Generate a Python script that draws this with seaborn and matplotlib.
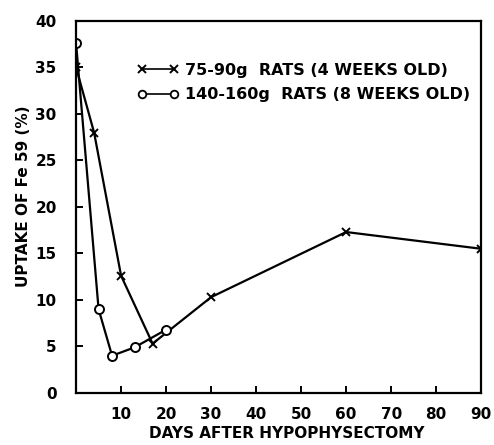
import numpy as np
import pandas as pd
import matplotlib
matplotlib.use("Agg")
import matplotlib.pyplot as plt
import seaborn as sns
from matplotlib.lines import Line2D

# values
days_young = [0, 4, 10, 17, 30, 60, 90]
uptake_young = [35.0, 28.0, 12.6, 5.3, 10.3, 17.3, 15.5]
days_old = [0, 5, 8, 13, 20]
uptake_old = [37.6, 9.0, 4.0, 4.9, 6.8]

label_young = "75-90g  RATS (4 WEEKS OLD)"
label_old = "140-160g  RATS (8 WEEKS OLD)"
x_ticks = [10, 20, 30, 40, 50, 60, 70, 80, 90]
y_ticks = [0, 5, 10, 15, 20, 25, 30, 35, 40]

sns.set_style("ticks")
plt.rcParams["font.family"] = ["DejaVu Sans"]
plt.rcParams["font.weight"] = "bold"
plt.rcParams["text.color"] = "black"
plt.rcParams["axes.labelcolor"] = "black"

fig = plt.figure(figsize=(4.94, 4.45), dpi=100)
ax = fig.add_axes([0.154, 0.117, 0.82, 0.836])

df_young = pd.DataFrame({"days": days_young, "uptake": uptake_young})
df_old = pd.DataFrame({"days": days_old, "uptake": uptake_old})

sns.lineplot(data=df_young, x="days", y="uptake", ax=ax, color="black",
             linewidth=1.6, marker="x", markersize=6, markeredgewidth=1.4,
             markeredgecolor="black")
sns.lineplot(data=df_old, x="days", y="uptake", ax=ax, color="black",
             linewidth=1.6, marker="o", markersize=6.5, markerfacecolor="white",
             markeredgecolor="black", markeredgewidth=1.4)

ax.set_xlim(0, 90)
ax.set_ylim(0, 40)
ax.set_xticks(x_ticks)
ax.set_yticks(y_ticks)
ax.tick_params(direction="in", length=5, width=1.4, labelsize=11, colors="black")
ax.tick_params(axis="y", pad=14)
ax.tick_params(axis="x", pad=10)
for s in ax.spines.values():
    s.set_visible(True)
    s.set_linewidth(1.6)
    s.set_color("black")

ax.set_xlabel("DAYS AFTER HYPOPHYSECTOMY", fontsize=11, fontweight="bold", color="black")
ax.set_ylabel("UPTAKE OF Fe 59 (%)", fontsize=11, fontweight="bold", color="black")
ax.xaxis.set_label_coords(0.52, -0.088)
ax.yaxis.set_label_coords(-0.112, 0.53)

handles = [
    Line2D([], [], color="black", linewidth=1.2, marker="x", markersize=6,
           markeredgewidth=1.4),
    Line2D([], [], color="black", linewidth=1.2, marker="o", markersize=5.5,
           markerfacecolor="white", markeredgewidth=1.3),
]
leg = ax.legend(handles, [label_young, label_old], loc="upper left",
                bbox_to_anchor=(0.15, 0.888), frameon=False, numpoints=2,
                handlelength=2.6, handletextpad=0.4, borderpad=0, borderaxespad=0,
                labelspacing=0.62, prop={"size": 11.5, "weight": "bold"})
for t in leg.get_texts():
    t.set_color("black")

fig.savefig("out.png", dpi=100)
